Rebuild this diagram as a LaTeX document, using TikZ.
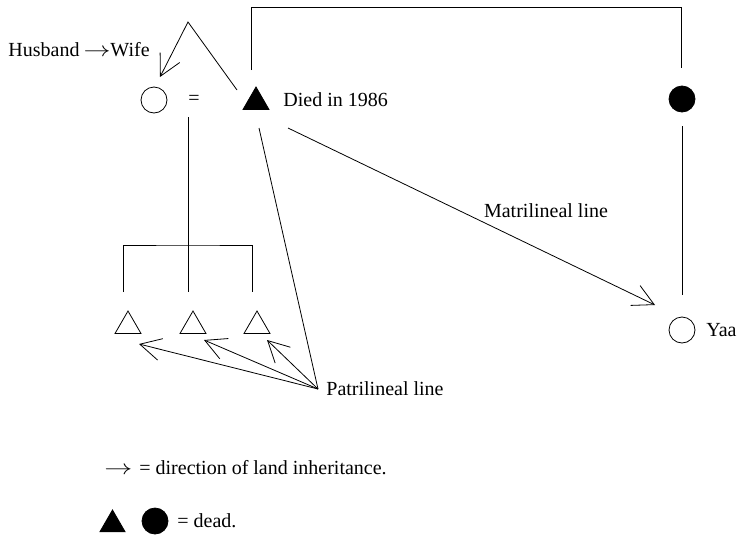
\documentclass[tikz,border=0pt]{standalone}
\usepackage{fontspec}
\setmainfont{Liberation Serif}
\usetikzlibrary{shapes.geometric,arrows.meta}
\begin{document}
\begin{tikzpicture}[x=1pt,y=-1pt,line width=0.8pt,
  every node/.style={font=\fontsize{20}{24}\selectfont},
  fem/.style={circle,draw,minimum size=26pt,inner sep=0pt},
  femdead/.style={fem,fill=black},
  male/.style={regular polygon,regular polygon sides=3,draw,minimum size=30pt,inner sep=0pt},
  maledead/.style={male,fill=black},
  lbl/.style={inner sep=0pt,anchor=west},
  inh/.style={-{Straight Barb[length=21pt,width=22pt]}}]
\useasboundingbox (0,0) rectangle (742,536);
% people
\node[fem] (wife) at (154,100) {};
\node (eq) at (194,100) {=};
\node[maledead] (husb) at (256,102) {};
\node[lbl] (died) at (283,100) {Died in 1986};
\node[femdead] (mother) at (682,99) {};
\node[fem] (yaa) at (682,330) {};
\node[lbl] (yaalbl) at (706,330) {Yaa};
\node[male] (c1) at (128,326) {};
\node[male] (c2) at (193,326) {};
\node[male] (c3) at (257,326) {};
% labels
\node[lbl] (hw) at (8,50) {Husband\hspace{4pt}\scalebox{1.3}[1]{$\rightarrow$}Wife};
\node[lbl] (patri) at (326,389) {Patrilineal line};
\node (matri) at (546,211) {Matrilineal line};
% legend
\node[lbl] (leg1) at (104,468) {\scalebox{1.35}[1]{$\rightarrow$}\hspace{7pt}=\hspace{5pt}direction of land inheritance.};
\node[maledead,minimum size=29pt] (legtri) at (112.5,524.5) {};
\node[femdead] (legcirc) at (155,521) {};
\node[lbl] (leg2) at (177,521) {= dead.};
% coordinates
\coordinate (hs) at (251,70);
\coordinate (ms) at (681,68);
\coordinate (mb) at (682,126);
\coordinate (yt) at (682,295);
\coordinate (hwstart) at (237,90);
\coordinate (hwapex) at (188,22);
\coordinate (wtip) at (160,77);
\coordinate (wl) at (188,117);
\coordinate (br) at (188,245);
\coordinate (d1) at (123,292);
\coordinate (d2) at (188,292);
\coordinate (d3) at (252,292);
\coordinate (hp) at (259,128);
\coordinate (pp) at (318,389);
\coordinate (t1) at (139,344);
\coordinate (t2) at (204,340);
\coordinate (t3) at (267,340);
\coordinate (mstart) at (288,128);
\coordinate (mtip) at (655,305);
% connectors
\draw (hs) -- ++(0,-63) -| (ms);
\draw (mb) -- (yt);
\draw[inh] (hwstart) -- (hwapex) -- (wtip);
\draw (wl) -- (d2);
\draw (d1) |- (br) -| (d3);
\draw (hp) -- (pp);
\draw[inh] (pp) -- (t1);
\draw[inh] (pp) -- (t2);
\draw[inh] (pp) -- (t3);
\draw[inh] (mstart) -- (mtip);
\end{tikzpicture}
\end{document}
